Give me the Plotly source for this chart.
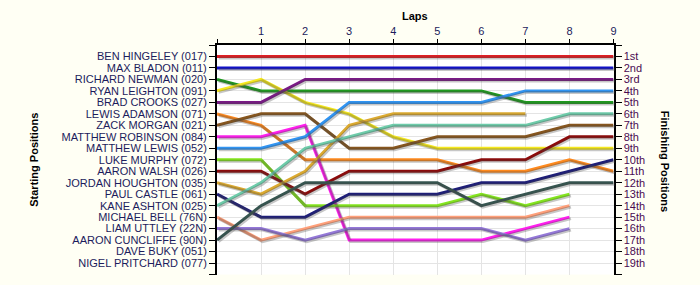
import plotly.graph_objects as go

laps = list(range(10))
lap_labels = ["", "1", "2", "3", "4", "5", "6", "7", "8", "9"]

drivers = [
    "BEN HINGELEY (017)", "MAX BLADON (011)", "RICHARD NEWMAN (020)", "RYAN LEIGHTON (091)",
    "BRAD CROOKS (027)", "LEWIS ADAMSON (071)", "ZACK MORGAN (021)", "MATTHEW ROBINSON (084)",
    "MATTHEW LEWIS (052)", "LUKE MURPHY (072)", "AARON WALSH (026)", "JORDAN HOUGHTON (035)",
    "PAUL CASTLE (061)", "KANE ASHTON (025)", "MICHAEL BELL (76N)", "LIAM UTTLEY (22N)",
    "AARON CUNCLIFFE (90N)", "DAVE BUKY (051)", "NIGEL PRITCHARD (077)",
]
finish_labels = ["1st", "2nd", "3rd", "4th", "5th", "6th", "7th", "8th", "9th", "10th",
                 "11th", "12th", "13th", "14th", "15th", "16th", "17th", "18th", "19th"]

N = None
hingeley  = [1, 1, 1, 1, 1, 1, 1, 1, 1, 1]
bladon    = [2, 2, 2, 2, 2, 2, 2, 2, 2, 2]
newman    = [3, 4, 4, 4, 4, 4, 4, 5, 5, 5]
leighton  = [4, 3, 5, 6, 8, 9, 9, 9, 9, 9]
crooks    = [5, 5, 3, 3, 3, 3, 3, 3, 3, 3]
adamson   = [6, 7, 10, 10, 10, 10, 11, 11, 10, 11]
morgan    = [7, 6, 6, 9, 9, 8, 8, 8, 7, 7]
robinson  = [8, 8, 7, 17, 17, 17, 17, 16, 15, N]
lewis     = [9, 9, 8, 5, 5, 5, 5, 4, 4, 4]
murphy    = [10, 10, 14, 14, 14, 14, 13, 14, 13, N]
walsh     = [11, 11, 13, 11, 11, 11, 10, 10, 8, 8]
houghton  = [12, 13, 11, 7, 6, 6, 6, 6, N, N]
castle    = [13, 15, 15, 13, 13, 13, 12, 12, 11, 10]
ashton    = [14, 12, 9, 8, 7, 7, 7, 7, 6, 6]
bell      = [15, 17, 16, 15, 15, 15, 15, 15, 14, N]
uttley    = [16, 16, 17, 16, 16, 16, 16, 17, 16, N]
cuncliffe = [17, 14, 12, 12, 12, 12, 14, 13, 12, 12]
buky      = [18, N, N, N, N, N, N, N, N, N]
pritchard = [19, N, N, N, N, N, N, N, N, N]

series = [hingeley, bladon, newman, leighton, crooks, adamson, morgan, robinson, lewis,
          murphy, walsh, houghton, castle, ashton, bell, uttley, cuncliffe, buky, pritchard]
colors = ["#E01E24", "#1010C8", "#1E9A1E", "#F5E81E", "#7A1A86", "#FF8A1E", "#87561E",
          "#FF1EEE", "#3094F2", "#84E61E", "#8C0A0A", "#DCAA30", "#1E1E78", "#6ECCAA",
          "#FFA07A", "#9478D8", "#365550", "#888888", "#888888"]

fig = go.Figure()

# shadow traces (same data, on slightly offset axes)
for s in series:
    fig.add_trace(go.Scatter(x=laps, y=s, mode="lines", xaxis="x2", yaxis="y2",
                             line=dict(color="rgba(70,70,70,0.3)", width=3),
                             hoverinfo="skip", showlegend=False))
for name, s, c in zip(drivers, series, colors):
    fig.add_trace(go.Scatter(x=laps, y=s, mode="lines", name=name,
                             line=dict(color=c, width=3), showlegend=False))
# invisible trace to activate the right axis
fig.add_trace(go.Scatter(x=[0], y=[1], yaxis="y3", mode="markers",
                         marker=dict(opacity=0), hoverinfo="skip", showlegend=False))

W, H = 700, 285
off = 1.5
left_px, right_px, top_px, bot_px = 217, 613.5, 45, 275
ml = left_px
mr = W - right_px - off
mt = top_px
mb = H - bot_px - off
pw = W - ml - mr
ph = H - mt - mb

def px_x(p):
    return (p - ml) / pw

def px_y(p):
    return (H - mb - p) / ph

ytickvals = list(range(0, 21))
left_text = [""] + drivers + [""]
right_text = [""] + finish_labels + [""]
font = "Liberation Sans, Arial, sans-serif"

fig.update_layout(
    width=W, height=H,
    margin=dict(l=ml, r=mr, t=mt, b=mb),
    paper_bgcolor="#FFFFF4",
    plot_bgcolor="rgba(0,0,0,0)",
    font=dict(family=font, size=11, color="#1C1C5C"),
    xaxis=dict(range=[0, 9], side="top", tickvals=laps, ticktext=lap_labels,
               domain=[0, px_x(right_px)],
               showline=True, linecolor="black", linewidth=2, ticks="outside",
               ticklen=4, tickcolor="black", showgrid=True, gridcolor="#E4E4E4",
               zeroline=False, tickfont=dict(color="#1C1C5C", size=11)),
    yaxis=dict(range=[20, 0], tickvals=ytickvals, ticktext=left_text,
               domain=[px_y(bot_px), 1],
               showline=True, linecolor="black", linewidth=2, ticks="outside",
               ticklen=6, tickcolor="black", showgrid=True, gridcolor="#E4E4E4",
               zeroline=False, tickfont=dict(color="#1C1C5C", size=11)),
    yaxis3=dict(range=[20, 0], overlaying="y", side="right", tickvals=ytickvals,
                ticktext=right_text, showline=True, linecolor="black", linewidth=2,
                ticks="outside", ticklen=6, tickcolor="black", showgrid=False,
                zeroline=False, tickfont=dict(color="#4A0A52", size=11)),
    xaxis2=dict(range=[0, 9], domain=[px_x(left_px + off), 1], anchor="y2", visible=False),
    yaxis2=dict(range=[20, 0], domain=[0, px_y(top_px + off)], anchor="x2", visible=False),
    shapes=[dict(type="rect", xref="paper", yref="paper", x0=0, x1=px_x(right_px),
                 y0=px_y(bot_px), y1=1, fillcolor="white", line=dict(width=0),
                 layer="below")],
    annotations=[
        dict(text="<b>Laps</b>", xref="paper", yref="paper", x=px_x(415),
             y=px_y(16), xanchor="center", yanchor="middle", showarrow=False,
             font=dict(color="black", size=11)),
        dict(text="<b>Starting Positions</b>", xref="paper", yref="paper",
             x=px_x(34), y=px_y(160), xanchor="center", yanchor="middle",
             textangle=-90, showarrow=False, font=dict(color="black", size=11)),
        dict(text="<b>Finishing Positions</b>", xref="paper", yref="paper",
             x=px_x(665), y=px_y(161), xanchor="center", yanchor="middle",
             textangle=90, showarrow=False, font=dict(color="black", size=11)),
    ],
)

fig.write_html("out.html")
